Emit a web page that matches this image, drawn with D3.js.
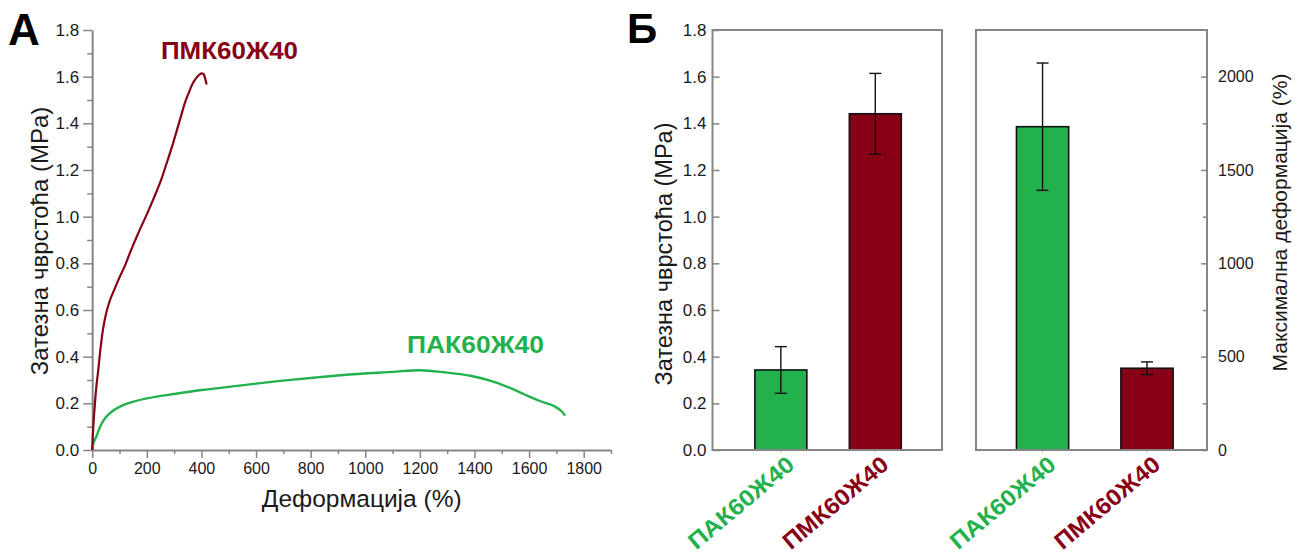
<!DOCTYPE html>
<html>
<head>
<meta charset="utf-8">
<script src="https://cdn.jsdelivr.net/npm/d3@7"></script>
<style>
  body { margin: 0; background: #fff; }
  svg { display: block; font-family: "Liberation Sans", Arial, sans-serif; }
</style>
</head>
<body>
<svg id="chart" width="1303" height="554"></svg>
<script>
// ---- data ----
const materials = ["ПАК60Ж40", "ПМК60Ж40"];
const materialColors = ["#22b14c", "#880015"];

// stress–strain curve, ПАК60Ж40 (strain %, stress MPa)
const pakStrain = [0, 5, 16, 29, 47, 71, 102, 151, 200, 300, 400, 540, 680, 820, 970, 1100, 1200, 1290, 1385, 1460, 1520, 1580, 1640, 1695, 1720, 1732];
const pakStress = [0, 0.03, 0.06, 0.10, 0.136, 0.164, 0.186, 0.207, 0.221, 0.240, 0.257, 0.276, 0.295, 0.311, 0.326, 0.335, 0.342, 0.333, 0.318, 0.296, 0.271, 0.240, 0.210, 0.186, 0.165, 0.147];

// stress–strain curve, ПМК60Ж40
const pmkStrain = [0, 4, 10, 16, 22, 30, 40, 52, 66, 82, 100, 120, 140, 169, 200, 224, 250, 273, 295, 310, 325, 340, 355, 370, 389, 400, 408, 413, 419];
const pmkStress = [0, 0.10, 0.20, 0.28, 0.34, 0.43, 0.52, 0.59, 0.645, 0.69, 0.74, 0.79, 0.85, 0.93, 1.01, 1.075, 1.15, 1.23, 1.31, 1.37, 1.43, 1.49, 1.535, 1.575, 1.605, 1.614, 1.61, 1.595, 1.566];

// bar summaries (mean ± sd)
const strengthMean = [0.343, 1.441];
const strengthErr = [0.100, 0.173];
const elongationMean = [1732, 438];
const elongationErr = [341, 34];

// axis ticks
const stressTicks = [0, 0.2, 0.4, 0.6, 0.8, 1.0, 1.2, 1.4, 1.6, 1.8];
const stressMinorTicks = [0.1, 0.3, 0.5, 0.7, 0.9, 1.1, 1.3, 1.5, 1.7];
const strainTicks = [0, 200, 400, 600, 800, 1000, 1200, 1400, 1600, 1800];
const strainMinorTicks = [100, 300, 500, 700, 900, 1100, 1300, 1500, 1700, 1900];
const elongTicks = [0, 500, 1000, 1500, 2000];
const elongMinorTicks = [250, 750, 1250, 1750];

// ---- drawing ----
const svg = d3.select("#chart");
const axisGray = "#858585";
const textColor = "#1a1a1a";
const FONT = "\"Liberation Sans\", Arial, sans-serif";

function styleAxis(g, fontSize) {
  g.select(".domain").attr("stroke", axisGray).attr("stroke-width", 2);
  g.selectAll(".tick line").attr("stroke", axisGray).attr("stroke-width", 1.5);
  g.selectAll(".tick text").attr("fill", textColor).attr("font-size", fontSize).attr("font-family", FONT);
}
function minorAxis(g) {
  g.select(".domain").remove();
  g.selectAll(".tick line").attr("stroke", axisGray).attr("stroke-width", 1.5);
  g.selectAll(".tick text").remove();
}
// heavy sample labels, stretched to their drawn width
function sampleLabel(sel, width) {
  return sel.attr("font-weight", "bold").attr("font-size", 23)
    .attr("textLength", width).attr("lengthAdjust", "spacingAndGlyphs");
}

// ===== Panel А : stress–strain curves =====
const xA = d3.scaleLinear().domain([0, 1900]).range([92.2, 611]);
const yA = d3.scaleLinear().domain([0, 1.8]).range([450, 30]);

svg.append("g").attr("transform", `translate(0,${yA(0)})`)
  .call(d3.axisBottom(xA).tickValues(strainMinorTicks).tickSize(4).tickSizeOuter(0))
  .call(minorAxis);
svg.append("g").attr("transform", `translate(${xA(0)},0)`)
  .call(d3.axisLeft(yA).tickValues(stressMinorTicks).tickSize(5).tickSizeOuter(0))
  .call(minorAxis);

svg.append("g").attr("transform", `translate(0,${yA(0)})`)
  .call(d3.axisBottom(xA).tickValues(strainTicks).tickSize(8).tickSizeOuter(0).tickPadding(5).tickFormat(d3.format("d")))
  .call(g => styleAxis(g, 16));
svg.append("g").attr("transform", `translate(${xA(0)},0)`)
  .call(d3.axisLeft(yA).tickValues(stressTicks).tickSize(9).tickSizeOuter(0).tickPadding(4).tickFormat(d3.format(".1f")))
  .call(g => styleAxis(g, 17));

const lineA = d3.line().x(d => xA(d[0])).y(d => yA(d[1])).curve(d3.curveCatmullRom.alpha(0.5));
svg.append("path").datum(d3.zip(pakStrain, pakStress))
  .attr("d", lineA).attr("fill", "none").attr("stroke", materialColors[0]).attr("stroke-width", 2.4);
svg.append("path").datum(d3.zip(pmkStrain, pmkStress))
  .attr("d", lineA).attr("fill", "none").attr("stroke", materialColors[1]).attr("stroke-width", 2.2);

svg.append("text").attr("x", 161).attr("y", 59).text(materials[1])
  .attr("fill", materialColors[1]).call(sampleLabel, 137);
svg.append("text").attr("x", 407).attr("y", 352.5).text(materials[0])
  .attr("fill", materialColors[0]).call(sampleLabel, 137);

svg.append("text").attr("x", 361.7).attr("y", 507).attr("text-anchor", "middle")
  .attr("font-size", 24.5).attr("fill", textColor).text("Деформација (%)");
svg.append("text").attr("transform", "translate(48,241) rotate(-90)").attr("text-anchor", "middle")
  .attr("font-size", 24).attr("fill", textColor).text("Затезна чврстоћа (MPa)");

svg.append("text").attr("x", 8).attr("y", 45).attr("font-size", 44).attr("font-weight", "bold")
  .attr("fill", "#000").text("А");

// ===== Panel Б : bar charts =====
svg.append("text").attr("x", 627).attr("y", 43).attr("font-size", 42).attr("font-weight", "bold")
  .attr("fill", "#000").text("Б");

function barPanel(opts) {
  const { x0, x1, y, mean, err, pi, po, align } = opts;
  const xb = d3.scaleBand().domain(materials).range([x0, x1])
    .paddingInner(pi).paddingOuter(po).align(align);
  const g = svg.append("g");
  const rows = materials.map((m, i) => ({ m, i, v: mean[i], e: err[i] }));
  const cx = d => xb(d.m) + xb.bandwidth() / 2;

  // category ticks under the frame
  g.selectAll("line.cat").data(rows).join("line")
    .attr("x1", cx).attr("x2", cx)
    .attr("y1", y(0)).attr("y2", y(0) + 3).attr("stroke", "#c8c8c8").attr("stroke-width", 1);

  g.selectAll("rect.bar").data(rows).join("rect")
    .attr("x", d => xb(d.m)).attr("width", xb.bandwidth())
    .attr("y", d => y(d.v)).attr("height", d => y(0) - y(d.v))
    .attr("fill", d => materialColors[d.i]).attr("stroke", "#111").attr("stroke-width", 1.6);

  g.selectAll("line.err").data(rows).join("line")
    .attr("x1", cx).attr("x2", cx)
    .attr("y1", d => y(d.v - d.e)).attr("y2", d => y(d.v + d.e))
    .attr("stroke", "#111").attr("stroke-width", 1.4);
  [-1, 1].forEach(s => {
    g.selectAll(null).data(rows).join("line")
      .attr("x1", d => cx(d) - 6).attr("x2", d => cx(d) + 6)
      .attr("y1", d => y(d.v + s * d.e)).attr("y2", d => y(d.v + s * d.e))
      .attr("stroke", "#111").attr("stroke-width", 1.4);
  });

  // rotated category labels
  g.selectAll("text.cat").data(rows).join("text")
    .attr("transform", d => `translate(${cx(d) + 15},467) rotate(-40)`)
    .attr("text-anchor", "end")
    .attr("fill", d => materialColors[d.i]).text(d => d.m)
    .call(sampleLabel, 130);

  // frame
  g.append("rect").attr("x", x0).attr("y", y.range()[1]).attr("width", x1 - x0)
    .attr("height", y.range()[0] - y.range()[1])
    .attr("fill", "none").attr("stroke", axisGray).attr("stroke-width", 2);
  return xb;
}

const yB1 = d3.scaleLinear().domain([0, 1.8]).range([450, 30]);
const yB2 = d3.scaleLinear().domain([0, 2250]).range([450, 30]);

barPanel({ x0: 712.5, x1: 942, y: yB1, mean: strengthMean, err: strengthErr, pi: 0.45, po: 0.44, align: 0.51 });
barPanel({ x0: 976, x1: 1207, y: yB2, mean: elongationMean, err: elongationErr, pi: 0.5, po: 0.356, align: 0.544 });

svg.append("g").attr("transform", "translate(712.5,0)")
  .call(d3.axisLeft(yB1).tickValues(stressTicks).tickSize(-7).tickSizeOuter(0).tickPadding(6).tickFormat(d3.format(".1f")))
  .call(g => styleAxis(g, 17))
  .call(g => g.select(".domain").remove());

svg.append("g").attr("transform", "translate(1207,0)")
  .call(d3.axisRight(yB2).tickValues(elongMinorTicks).tickSize(-4).tickSizeOuter(0))
  .call(minorAxis);
svg.append("g").attr("transform", "translate(1207,0)")
  .call(d3.axisRight(yB2).tickValues(elongTicks).tickSize(-6).tickSizeOuter(0).tickPadding(11).tickFormat(d3.format("d")))
  .call(g => styleAxis(g, 16))
  .call(g => g.select(".domain").remove());

svg.append("text").attr("transform", "translate(672,254) rotate(-90)").attr("text-anchor", "middle")
  .attr("font-size", 23.5).attr("fill", textColor).text("Затезна чврстоћа (MPa)");
svg.append("text").attr("transform", "translate(1287,222.5) rotate(-90)").attr("text-anchor", "middle")
  .attr("font-size", 21).attr("fill", textColor).text("Максимална деформација (%)");
</script>
</body>
</html>
